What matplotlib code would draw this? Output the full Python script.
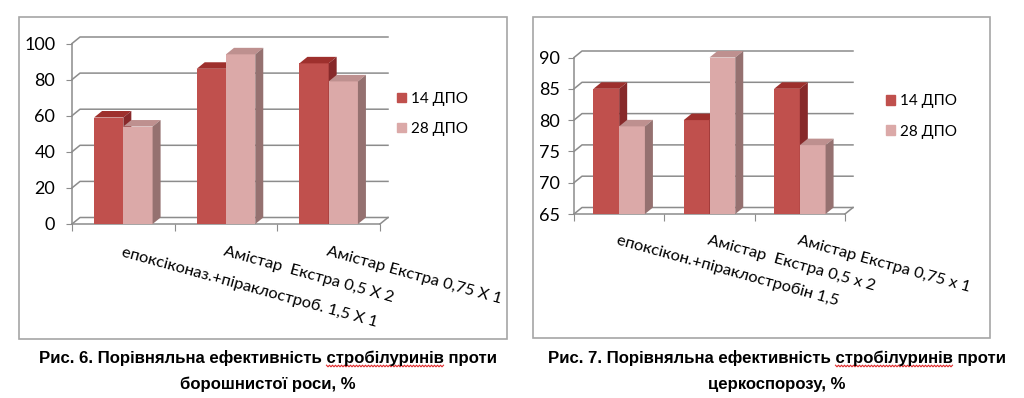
import numpy as np
import matplotlib
matplotlib.use('Agg')
import matplotlib.pyplot as plt
from matplotlib.patches import Polygon, Rectangle
from matplotlib.lines import Line2D
from matplotlib.font_manager import FontProperties

plt.rcParams['font.family'] = ['Lato', 'DejaVu Sans']

# %% data
series = ['14 ДПО', '28 ДПО']

cats_6 = ['епоксіконаз.+піраклостроб. 1,5 Х 1', 'Амістар  Екстра 0,5 Х 2', 'Амістар Екстра 0,75 Х 1']
d14_6 = [59, 86, 89]
d28_6 = [54, 94, 79]
yticks_6 = [0, 20, 40, 60, 80, 100]

cats_7 = ['епоксікон.+піраклостробін 1,5', 'Амістар  Екстра 0,5 х 2', 'Амістар Екстра 0,75 х 1']
d14_7 = [85, 80, 85]
d28_7 = [79, 90, 76]
yticks_7 = [65, 70, 75, 80, 85, 90]

cap_6 = ['Рис. 6. Порівняльна ефективність ', 'стробілуринів', ' проти', 'борошнистої роси, %']
cap_7 = ['Рис. 7. Порівняльна ефективність ', 'стробілуринів', ' проти', 'церкоспорозу, %']

# %% style
W, H = 1024, 398
GRID = '#8C8C8C'
BOX = '#A6A6A6'
DARK = ('#C0504D', '#9E302D', '#87292A')     # front, top, side
LIGHT = ('#DBA9A8', '#BE908F', '#957170')
DX, DY = 8, 6.5   # depth offset in px
BW = 0.285

fig = plt.figure(figsize=(W / 100, H / 100), dpi=100)


def px_axes(x0, y0, x1, y1):
    return fig.add_axes([x0 / W, 1 - y1 / H, (x1 - x0) / W, (y1 - y0) / H])


def draw_chart(ax, cats, s1, s2, yticks, ypad, xpad, leg_xy):
    lo, hi = yticks[0], yticks[-1]
    ax.set_xlim(-0.5, 2.5)
    ax.set_ylim(lo, hi)
    bb = ax.get_position()
    ddx = DX / (bb.width * W) * 3
    ddy = DY / (bb.height * H) * (hi - lo)

    ax.patch.set_visible(False)
    for sp in ['top', 'right']:
        ax.spines[sp].set_visible(False)
    for sp in ['left', 'bottom']:
        ax.spines[sp].set_color(GRID)
        ax.spines[sp].set_linewidth(1.1)

    ax.set_yticks(yticks)
    ax.tick_params(axis='y', length=4, color=GRID, pad=ypad, labelsize=13)
    ax.set_xticks([-0.5, 0.5, 1.5, 2.5])
    ax.set_xticklabels([])
    ax.tick_params(axis='x', which='major', length=5, color=GRID)
    ax.set_xticks(range(3), minor=True)
    ax.set_xticklabels(cats, minor=True, fontsize=11.8)
    ax.tick_params(axis='x', which='minor', length=0, pad=xpad)
    plt.setp(ax.get_xticklabels(minor=True), rotation=-15.5, ha='left', va='top',
             rotation_mode='anchor')

    # back wall gridlines + floor
    for t in yticks:
        ax.add_line(Line2D([-0.5, -0.5 + ddx, 2.5 + ddx], [t, t + ddy, t + ddy],
                           color=GRID, lw=1.1, clip_on=False, zorder=1))
    ax.add_line(Line2D([2.5, 2.5 + ddx], [lo, lo + ddy], color=GRID, lw=1.1,
                       clip_on=False, zorder=1))

    # bars
    for k, (vals, cols) in enumerate([(s1, DARK), (s2, LIGHT)]):
        z = 3 + k
        for i, v in enumerate(vals):
            x0 = i - BW + k * BW
            x1 = x0 + BW
            ax.bar(x0, v - lo, BW, bottom=lo, align='edge', color=cols[0], zorder=z)
            ax.add_patch(Polygon([(x0, v), (x0 + ddx, v + ddy), (x1 + ddx, v + ddy), (x1, v)],
                                 closed=True, fc=cols[1], ec='none', clip_on=False, zorder=z))
            ax.add_patch(Polygon([(x1, lo), (x1, v), (x1 + ddx, v + ddy), (x1 + ddx, lo + ddy)],
                                 closed=True, fc=cols[2], ec='none', clip_on=False, zorder=z))

    handles = [Rectangle((0, 0), 1, 1, color=DARK[0]), Rectangle((0, 0), 1, 1, color=LIGHT[0])]
    ax.legend(handles, series, loc='center left', bbox_to_anchor=(leg_xy[0] / W, 1 - leg_xy[1] / H),
              bbox_transform=fig.transFigure, frameon=False, fontsize=11,
              handlelength=0.6, handleheight=0.6, handletextpad=0.3,
              labelspacing=1.05, borderpad=0, borderaxespad=0)


ax6 = px_axes(72, 43.5, 380, 224)
draw_chart(ax6, cats_6, d14_6, d28_6, yticks_6, 8, 15, (397, 114))

ax7 = px_axes(574, 57.5, 845, 214)
draw_chart(ax7, cats_7, d14_7, d28_7, yticks_7, 6, 14, (886, 116.5))

# frames around the charts
for x0, y0, x1, y1 in [(19, 17, 507, 339), (533, 17, 990, 338)]:
    fig.patches.append(Rectangle((x0 / W, 1 - y1 / H), (x1 - x0) / W, (y1 - y0) / H,
                                 transform=fig.transFigure, fill=False, ec=BOX, lw=1.2))

# captions
cap_font = dict(family=['Liberation Sans Narrow', 'Liberation Sans'], weight='bold', size=12.1)
fig.canvas.draw()
rend = fig.canvas.get_renderer()
fp = FontProperties(**cap_font)


def text_w(s):
    return rend.get_text_width_height_descent(s, fp, ismath=False)[0]


for cap, cx in [(cap_6, 268), (cap_7, 777)]:
    line1 = cap[0] + cap[1] + cap[2]
    fig.text(cx / W, 1 - 363 / H, line1, ha='center', va='baseline', **cap_font)
    fig.text(cx / W, 1 - 389 / H, cap[3], ha='center', va='baseline', **cap_font)
    left = cx - text_w(line1) / 2
    w_word = text_w(cap[1])
    xs0 = left + text_w(cap[0] + cap[1]) - w_word
    xs = np.arange(xs0, xs0 + w_word, 1.5)
    ys = 366 + np.where(np.arange(len(xs)) % 2 == 0, -0.8, 0.8)
    fig.add_artist(Line2D(xs / W, 1 - ys / H, color='#E0282A', lw=0.8,
                          transform=fig.transFigure))

fig.savefig('out.png', dpi=100)
